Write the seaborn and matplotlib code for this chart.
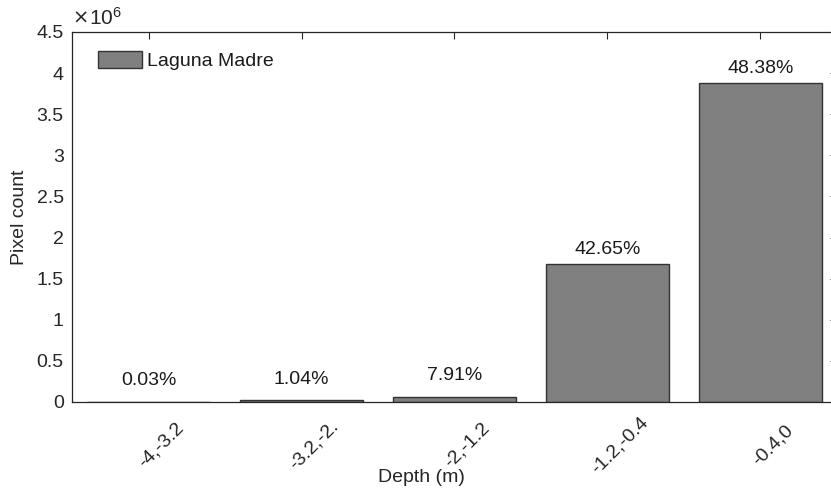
import numpy as np
import pandas as pd
import matplotlib
matplotlib.use("Agg")
import matplotlib.pyplot as plt
import matplotlib.transforms as mtransforms
from matplotlib.ticker import FuncFormatter, MultipleLocator
import seaborn as sns

# Depth classes and pixel counts for Laguna Madre
depth_bins = ["-4,-3.2", "-3.2,-2.", "-2,-1.2", "-1.2,-0.4", "-0.4,0"]
pixel_counts = [0.004e6, 0.02e6, 0.061e6, 1.678e6, 3.884e6]
percent_labels = ["0.03%", "1.04%", "7.91%", "42.65%", "48.38%"]
series_name = "Laguna Madre"

FS = 14

sns.set_theme(style="white")
plt.rcParams["font.family"] = ["Liberation Sans", "DejaVu Sans"]
plt.rcParams["mathtext.fontset"] = "custom"
plt.rcParams["mathtext.rm"] = "Liberation Sans"
plt.rcParams["mathtext.it"] = "Liberation Sans"

df = pd.DataFrame({"Depth": depth_bins, "Count": pixel_counts, "Site": series_name})

fig = plt.figure(figsize=(8.31, 5.01), dpi=100)
ax = fig.add_axes([72 / 831, 1 - 402 / 501, 765 / 831, 370 / 501])

sns.barplot(data=df, x="Depth", y="Count", hue="Site", ax=ax,
            palette=["#808080"], saturation=1, width=0.8,
            edgecolor="#333333", linewidth=1.0, legend=True)

ax.set_xlim(-0.5, 4.5)
ax.set_ylim(0, 4.5e6)
ax.yaxis.set_major_locator(MultipleLocator(0.5e6))
ax.yaxis.set_major_formatter(FuncFormatter(lambda v, p: f"{v / 1e6:g}"))

# Percentage share above each bar
for i, (cnt, lab) in enumerate(zip(pixel_counts, percent_labels)):
    pad = 12 if cnt < 1e6 else 7
    ax.annotate(lab, (i, cnt), xytext=(0, pad), textcoords="offset points",
                ha="center", va="baseline", fontsize=FS, color="#1a1a1a")

# Axis frame and ticks
for s in ax.spines.values():
    s.set_color("#262626")
    s.set_linewidth(0.9)
ax.tick_params(axis="both", which="both", direction="in", length=5, width=0.8,
               color="#262626", top=True, right=True, labelsize=FS,
               labelcolor="#262626")
ax.tick_params(axis="y", pad=6)
ax.tick_params(axis="x", pad=0)

ax.set_xticks(range(len(depth_bins)))
ax.set_xticklabels(depth_bins, rotation=45, ha="center", va="center")
shift = mtransforms.ScaledTranslation(0.125, -0.43, fig.dpi_scale_trans)
for t in ax.get_xticklabels():
    t.set_transform(t.get_transform() + shift)

ax.set_xlabel("Depth (m)", fontsize=FS, color="#262626")
ax.set_ylabel("Pixel count", fontsize=FS, color="#262626")
ax.xaxis.set_label_coords(0.457, -0.18)
ax.yaxis.set_label_coords(-0.058, 0.5)

# Exponent marker for the y axis: multiplication sign, then 10^6
ax.annotate("×", (0.0, 1.0), xycoords="axes fraction", xytext=(0, 3),
            textcoords="offset points", ha="left", va="bottom",
            fontsize=14, family="DejaVu Sans", color="#262626")
ax.annotate("10$^{6}$", (0.0, 1.0), xycoords="axes fraction", xytext=(12, 2),
            textcoords="offset points", ha="left", va="bottom",
            fontsize=15, color="#262626")

leg = ax.legend(loc="upper left", bbox_to_anchor=(0.0336, 0.948), frameon=False,
                fontsize=FS, handlelength=2.3, handleheight=0.95,
                handletextpad=0.25, borderpad=0, borderaxespad=0)
for txt in leg.get_texts():
    txt.set_color("#1a1a1a")

fig.savefig("out.png", dpi=100)
